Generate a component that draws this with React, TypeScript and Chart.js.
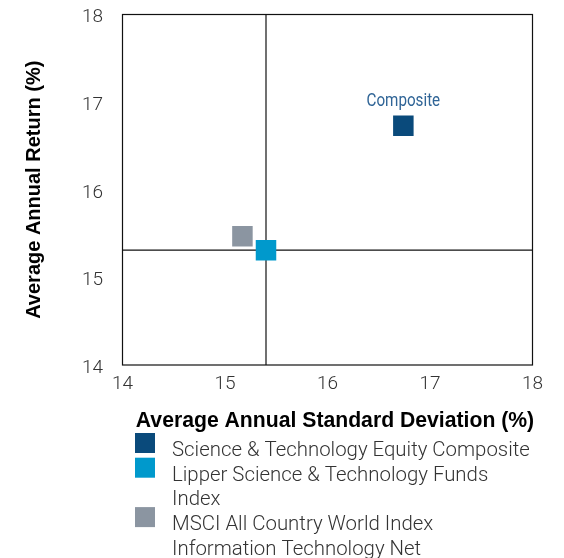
import React, { useEffect, useRef } from "react";
import { Chart, registerables } from "chart.js";

Chart.register(...registerables);

const seriesNames = [
  "Science & Technology Equity Composite",
  "Lipper Science & Technology Funds Index",
  "MSCI All Country World Index Information Technology Net",
];
const stdDev = [16.74, 15.4, 15.17];
const avgReturn = [16.73, 15.31, 15.47];
const seriesColors = ["#0a4a7b", "#0099cc", "#8b95a1"];
const pointLabels = ["Composite", "", ""];
const crossX = 15.4;
const crossY = 15.31;
const xMin = 14;
const xMax = 18;
const yMin = 14;
const yMax = 18;
const tickStep = 1;
const xTitle = "Average Annual Standard Deviation (%)";
const yTitle = "Average Annual Return (%)";

const LIGHT = "Roboto";
const BOLD = "'Liberation Sans', Arial, sans-serif";

export default function App() {
  const ref = useRef<HTMLCanvasElement>(null);

  useEffect(() => {
    const canvas = ref.current!;
    const overlay = {
      id: "overlay",
      beforeDatasetsDraw(chart: any) {
        const { left, top, right, bottom } = chart.chartArea;
        const ctx = chart.ctx;
        ctx.save();
        ctx.strokeStyle = "#111";
        ctx.lineWidth = 1.2;
        ctx.strokeRect(left, top, right - left, bottom - top);
        ctx.restore();
      },
      afterDraw(chart: any) {
        const ctx = chart.ctx;
        const { top, bottom } = chart.chartArea;
        ctx.save();
        // axis titles
        ctx.fillStyle = "#000";
        ctx.textAlign = "center";
        ctx.textBaseline = "alphabetic";
        ctx.font = `bold 21.2px ${BOLD}`;
        ctx.fillText(xTitle, 335, 427);
        ctx.font = `bold 20px ${BOLD}`;
        ctx.save();
        ctx.translate(40, (top + bottom) / 2);
        ctx.rotate(-Math.PI / 2);
        ctx.fillText(yTitle, 0, 0);
        ctx.restore();

        // point labels
        const xs = chart.scales.x;
        const ys = chart.scales.y;
        ctx.font = `19px ${LIGHT}`;
        ctx.fillStyle = "#2f6496";
        pointLabels.forEach((lab, i) => {
          if (!lab) return;
          const px = xs.getPixelForValue(stdDev[i]);
          const py = ys.getPixelForValue(avgReturn[i]);
          ctx.save();
          ctx.translate(px, py - 20);
          ctx.scale(0.8, 1);
          ctx.fillText(lab, 0, 0);
          ctx.restore();
        });

        // legend
        ctx.textAlign = "left";
        ctx.font = `300 20.4px ${LIGHT}`;
        const maxW = 361;
        const lineH = 24.7;
        let baseline = 456;
        seriesNames.forEach((name, i) => {
          ctx.fillStyle = seriesColors[i];
          ctx.fillRect(135, baseline - 23, 20, 20);
          ctx.fillStyle = "#333";
          const words = name.split(" ");
          const lines: string[] = [];
          let cur = "";
          words.forEach((w) => {
            const t = cur ? cur + " " + w : w;
            if (ctx.measureText(t).width > maxW && cur) {
              lines.push(cur);
              cur = w;
            } else cur = t;
          });
          if (cur) lines.push(cur);
          lines.forEach((ln) => {
            ctx.fillText(ln, 172, baseline);
            baseline += lineH;
          });
        });
        ctx.restore();
      },
    };

    const chart = new Chart(canvas, {
      type: "scatter",
      data: {
        datasets: [
          ...seriesNames.map((name, i) => ({
            label: name,
            data: [{ x: stdDev[i], y: avgReturn[i] }],
            backgroundColor: seriesColors[i],
            borderWidth: 0,
            pointBorderWidth: 0,
            pointStyle: "rect",
            pointRadius: 14.5,
            pointHoverRadius: 14.5,
            order: 0,
          })),
          {
            type: "line",
            label: "vline",
            data: [
              { x: crossX, y: yMin },
              { x: crossX, y: yMax },
            ],
            borderColor: "#111",
            borderWidth: 1.2,
            pointRadius: 0,
            order: 10,
          },
          {
            type: "line",
            label: "hline",
            data: [
              { x: xMin, y: crossY },
              { x: xMax, y: crossY },
            ],
            borderColor: "#111",
            borderWidth: 1.2,
            pointRadius: 0,
            order: 10,
          },
        ] as any,
      },
      options: {
        responsive: false,
        animation: false,
        events: [],
        layout: { padding: { left: 0, top: 12, right: 31.5, bottom: 0 } },
        plugins: { legend: { display: false }, tooltip: { enabled: false } },
        scales: {
          x: {
            type: "linear",
            min: xMin,
            max: xMax,
            ticks: { stepSize: tickStep, color: "#333", font: { family: LIGHT, size: 19, weight: 300 as any }, padding: 8 },
            grid: { display: false, drawTicks: false },
            border: { display: false },
            afterFit: (s: any) => {
              s.height = 193;
              s.paddingLeft = 0;
              s.paddingRight = 0;
            },
          },
          y: {
            type: "linear",
            min: yMin,
            max: yMax,
            ticks: { stepSize: tickStep, color: "#333", font: { family: LIGHT, size: 19, weight: 300 as any }, padding: 19.5, labelOffset: 3 },
            grid: { display: false, drawTicks: false },
            border: { display: false },
            afterFit: (s: any) => {
              s.width = 122.5;
              s.paddingTop = 0;
              s.paddingBottom = 0;
            },
          },
        },
      },
      plugins: [overlay],
    });
    return () => chart.destroy();
  }, []);

  return (
    <canvas
      ref={ref}
      width={564}
      height={558}
      style={{ position: "absolute", left: 0, top: 0, width: 564, height: 558 }}
    />
  );
}
